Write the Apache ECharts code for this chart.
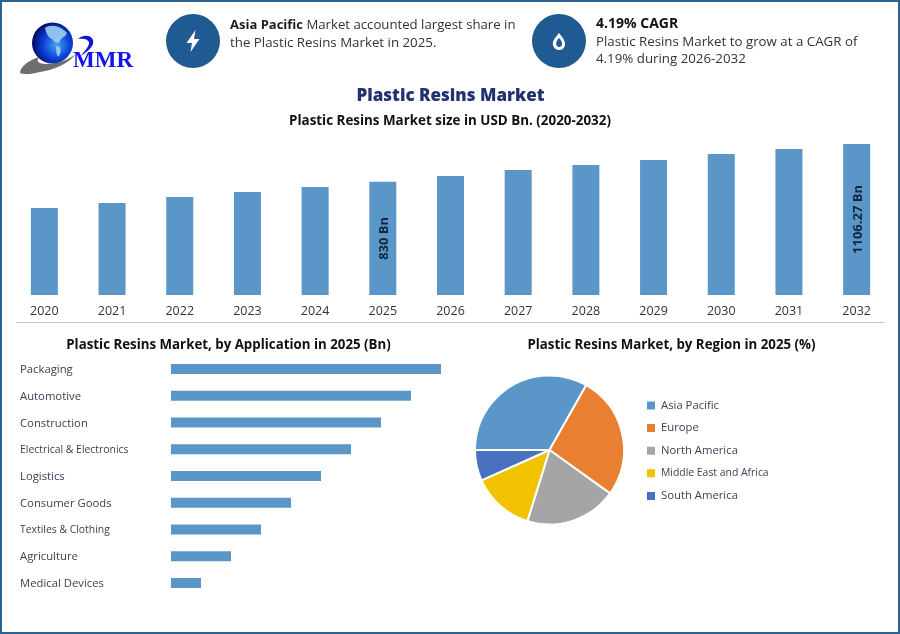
<!DOCTYPE html>
<html><head><meta charset="utf-8">
<style>html,body{margin:0;padding:0;background:#fff}#c{width:900px;height:634px}</style>
<script src="https://cdn.jsdelivr.net/npm/echarts@6/dist/echarts.min.js"></script>
</head><body><div id="c"></div>
<script>
const years=['2020','2021','2022','2023','2024','2025','2026','2027','2028','2029','2030','2031','2032'];
const marketSize=[637,674,718,754,791,830,872,916,952,989,1033,1070,1106.27];
const barLabels={'2025':'830 Bn','2032':'1106.27 Bn'};
const applications=['Packaging','Automotive','Construction','Electrical & Electronics','Logistics','Consumer Goods','Textiles & Clothing','Agriculture','Medical Devices'];
const applicationValues=[90,80,70,60,50,40,30,20,10];
const regions=['Asia Pacific','Europe','North America','Middle East and Africa','South America'];
const regionShares=[33.2,26.7,19.9,13.5,6.7];
const regionColors=['#5B96C9','#E97F31','#A5A5A5','#F2C200','#4A70C0'];
const condensedLabels=['Electrical & Electronics','Textiles & Clothing','Middle East and Africa'];
const FONT='"Open Sans"';
const BAR='#5B96C9', TXT='#3a4354', ICON='#1F5A92';
const chart=echarts.init(document.getElementById('c'),null,{renderer:'canvas'});
function txt(x,y,text,o){return {type:'text',x,y,silent:true,style:Object.assign({text,fontFamily:FONT,fontSize:13.3,fill:'#333',verticalAlign:'middle'},o||{})};}
let pn=0;
function pth(d,style){const name='p'+(pn++);echarts.graphic.registerShape(name,echarts.graphic.extendPath(d,{}));return {type:name,silent:true,style};}
const labelSize=n=>condensedLabels.includes(n)?10.4:11.3;
chart.setOption({
 animation:false,
 backgroundColor:'#fff',
 grid:[{left:10.5,right:9.5,top:135,height:160,outerBoundsMode:'none'},{left:171,width:270,top:355.6,height:240.8,outerBoundsMode:'none'}],
 xAxis:[
  {type:'category',gridIndex:0,data:years,axisTick:{show:false},axisLine:{show:false},
   axisLabel:{color:'#333',fontFamily:FONT,fontSize:12.5,margin:9.5}},
  {type:'value',gridIndex:1,min:0,max:90,show:false}],
 yAxis:[
  {type:'value',gridIndex:0,min:0,max:1172,show:false},
  {type:'category',gridIndex:1,inverse:true,data:applications,
   axisTick:{show:false},axisLine:{show:false},
   axisLabel:{color:TXT,fontFamily:FONT,fontSize:11.3,align:'left',margin:151,
     formatter:v=>`{${condensedLabels.includes(v)?'c':'n'}|${v}}`,
     rich:{n:{fontFamily:FONT,fontSize:11.3,color:TXT,padding:[2,0,0,0]},c:{fontFamily:FONT,fontSize:10.4,color:TXT,padding:[2,0,0,0]}}}}],
 legend:{orient:'vertical',left:645,top:399.5,padding:0,itemWidth:10,itemHeight:10,itemGap:10.6,icon:'rect',
   data:regions.map(n=>({name:n,textStyle:{fontSize:labelSize(n),color:TXT,fontFamily:FONT}})),selectedMode:false,
   textStyle:{color:TXT,fontFamily:FONT,fontSize:11.3}},
 series:[
  {type:'bar',xAxisIndex:0,yAxisIndex:0,data:marketSize,barWidth:27,itemStyle:{color:BAR},
   label:{show:true,rotate:90,position:'inside',offset:[0,1.5],fontFamily:FONT,fontSize:13,fontWeight:'bold',color:'#12263f',
     formatter:p=>barLabels[p.name]||''}},
  {type:'bar',xAxisIndex:1,yAxisIndex:1,data:applicationValues,barWidth:10,itemStyle:{color:BAR}},
  {type:'pie',center:[549.5,450],radius:[0,74.5],startAngle:180,clockwise:true,label:{show:false},labelLine:{show:false},
   itemStyle:{borderColor:'#fff',borderWidth:2},
   data:regions.map((n,i)=>({name:n,value:regionShares[i],itemStyle:{color:regionColors[i]}}))}
 ],
 graphic:[
  {type:'rect',silent:true,shape:{x:1,y:1,width:898,height:632},style:{fill:null,stroke:'#2A6496',lineWidth:2}},
  {type:'line',silent:true,shape:{x1:16,y1:322.5,x2:884,y2:322.5},style:{stroke:'#C4C4C4',lineWidth:1}},
  // logo
  pth('M20 73 C20 66 30 60 39 57 C36 61 38 64 46 64 C58 64 68 60 76 54 C68 64 54 70 40 72 C32 74 25 75 20 73 Z',{fill:'#6e6e6e'}),
  {type:'circle',silent:true,shape:{cx:52.5,cy:43,r:20.5},style:{fill:new echarts.graphic.RadialGradient(0.6,0.55,0.62,[{offset:0,color:'#4aa6ee'},{offset:0.5,color:'#0c46dc'},{offset:0.85,color:'#041a8a'},{offset:1,color:'#020838'}])}},
  pth('M45 28 C50 24 60 25 67 33 C66 37 61 37 60 41 C58 45 54 42 52 39 C48 37 46 33 45 28 Z M56 46 C61 46 62 50 59 56 C57 58 56 52 56 46 Z',{fill:'#9fcdef',opacity:.9}),
  pth('M78 39 C85 33 95 36 93 44 C91 49 86 52 81 56 C85 50 90 46 89 42 C88 39 83 38 78 39 Z',{fill:'#1212d8'}),
  txt(73,61.5,'MMR',{fontFamily:'"Liberation Serif"',fontSize:23,fontWeight:'bold',fill:'#1414ee'}),
  // icons
  {type:'circle',silent:true,shape:{cx:193,cy:41,r:27},style:{fill:ICON}},
  pth('M195.5 30 L186.5 43 L192 43 L190.5 52 L199.5 39 L194 39 Z',{fill:'#fff'}),
  {type:'circle',silent:true,shape:{cx:559,cy:41,r:27},style:{fill:ICON}},
  pth('M559 33 C555 38 552 41 553 45 C554 49 557 50 559 50 C562 50 565 48 565 44 C565 40 562 37 559 33 Z',{fill:'#fff'}),
  pth('M559 38 C556 41 555.5 44 557 46 C559 48 561 47 562 45 C562.5 42 561 40 559 38 Z',{fill:ICON}),
  // header text
  {type:'text',silent:true,x:230,y:25,style:{rich:{b:{fontFamily:FONT,fontSize:13,fontWeight:'bold',fill:'#1d1d1d'},n:{fontFamily:FONT,fontSize:13.2,fill:'#333'}},text:'{b|Asia Pacific} {n|Market accounted largest share in}',fontFamily:FONT,fontSize:13.2,verticalAlign:'middle'}},
  txt(230,43,'the Plastic Resins Market in 2025.'),
  txt(596,24,'4.19% CAGR',{fontSize:14,fontWeight:'bold',fill:'#111'}),
  txt(596,42.5,'Plastic Resins Market to grow at a CAGR of'),
  txt(596,59.5,'4.19% during 2026-2032'),
  txt(450.5,96.5,'Plastic Resins Market',{fontSize:17,fontWeight:800,fill:'#1F3370',align:'center'}),
  txt(450,121,'Plastic Resins Market size in USD Bn. (2020-2032)',{fontSize:13.4,fontWeight:'bold',fill:'#111',align:'center'}),
  txt(228.5,345.5,'Plastic Resins Market, by Application in 2025 (Bn)',{fontSize:13.3,fontWeight:'bold',fill:'#111',align:'center'}),
  txt(671.5,345.5,'Plastic Resins Market, by Region in 2025 (%)',{fontSize:13.3,fontWeight:'bold',fill:'#111',align:'center'})
 ]
});
</script></body></html>
